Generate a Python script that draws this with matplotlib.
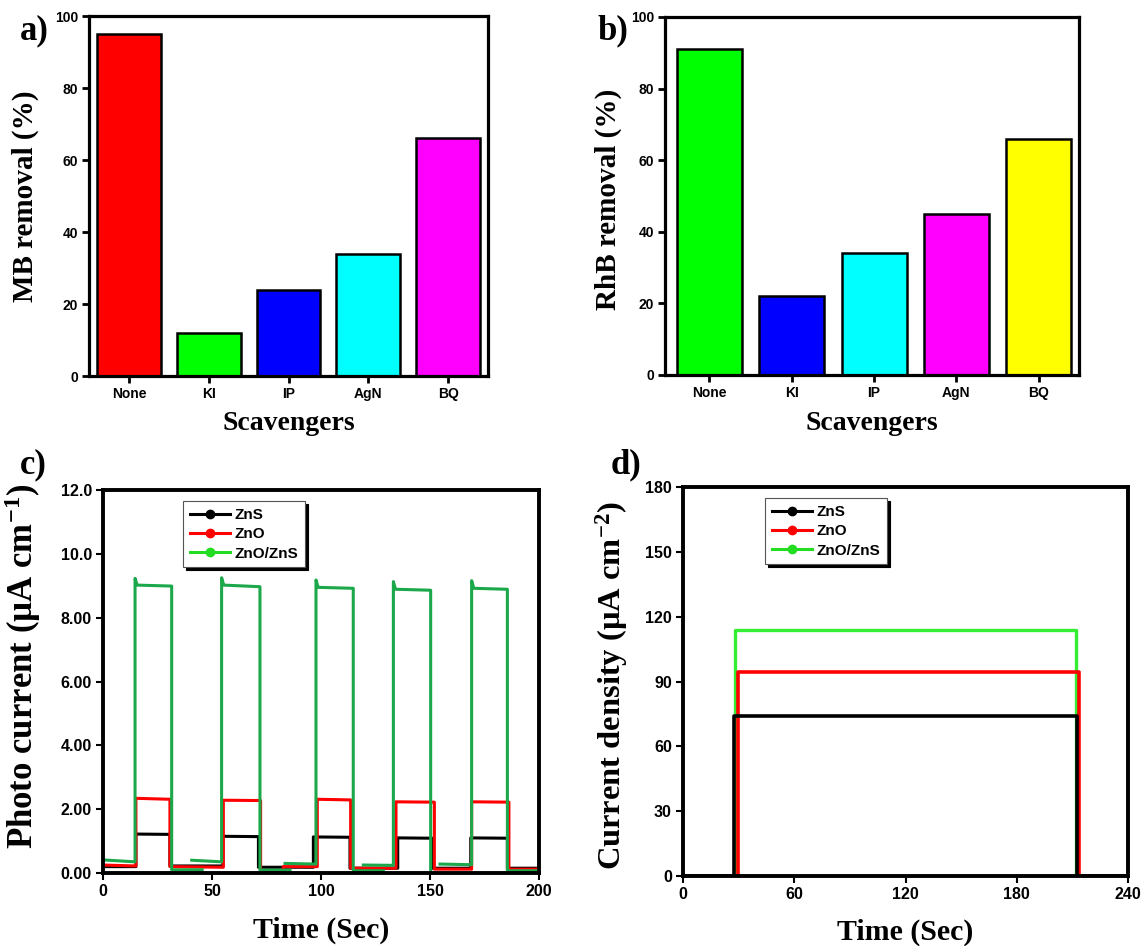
import numpy as np
import matplotlib
matplotlib.use('Agg')
import matplotlib.pyplot as plt
from matplotlib.lines import Line2D

plt.rcParams['mathtext.fontset'] = 'custom'
plt.rcParams['mathtext.rm'] = 'Liberation Serif:bold'
plt.rcParams['mathtext.it'] = 'Liberation Serif:bold:italic'
plt.rcParams['mathtext.bf'] = 'Liberation Serif:bold'
plt.rcParams['mathtext.default'] = 'rm'

# ---------------- data ----------------
scavengers = ['None', 'KI', 'IP', 'AgN', 'BQ']
mb_removal = [95, 12, 24, 34, 66]
rhb_removal = [91, 22, 34, 45, 66]
mb_colors = ['#ff0000', '#00ff00', '#0000ff', '#00ffff', '#ff00ff']
rhb_colors = ['#00ff00', '#0000ff', '#00ffff', '#ff00ff', '#ffff00']

nan = np.nan
# panel c : photo current vs time
t_zns = [0, 15.1, 15.1, 30.7, 30.7, 55.0, 55.0, 71.3, 71.3, 96.5, 96.5, 113.3, 113.3,
         135.2, 135.2, 151.0, 151.0, 168.7, 168.7, 185.5, 185.5, 200]
i_zns = [0.2, 0.2, 1.22, 1.21, 0.22, 0.22, 1.15, 1.14, 0.18, 0.18, 1.13, 1.12, 0.15,
         0.15, 1.1, 1.09, 0.15, 0.15, 1.1, 1.09, 0.15, 0.15]
t_zno = [0, 15.1, 15.1, 30.7, 30.7, 55.2, 55.2, 72.3, 72.3, 82.7, 82.7, 98.3, 98.3,
         113.6, 113.6, 134.4, 134.4, 152.0, 152.0, 169.1, 169.1, 186.2, 186.2, 200]
i_zno = [0.25, 0.22, 2.34, 2.31, 0.2, 0.18, 2.28, 2.27, 0.04, 0.04, 0.2, 0.2, 2.31,
         2.29, 0.15, 0.15, 2.23, 2.22, 0.12, 0.12, 2.23, 2.22, 0.12, 0.12]
t_znozns = [0, 14.7, 14.7, 15.7, 31.5, 31.5, 45.5, nan,
            40.7, 54.4, 54.4, 55.4, 72.0, 72.0, 85.8, nan,
            83.5, 97.7, 97.7, 98.7, 114.8, 114.8, 128.6, nan,
            119.4, 133.2, 133.2, 134.2, 150.3, 150.3, 163.8, nan,
            154.6, 169.1, 169.1, 170.1, 185.5, 185.5, 200]
i_znozns = [0.41, 0.35, 9.23, 9.02, 8.99, 0.1, 0.1, nan,
            0.4, 0.35, 9.25, 9.02, 8.97, 0.09, 0.09, nan,
            0.3, 0.28, 9.18, 8.95, 8.92, 0.07, 0.07, nan,
            0.25, 0.24, 9.13, 8.89, 8.86, -0.03, -0.03, nan,
            0.28, 0.26, 9.16, 8.92, 8.89, 0.07, 0.07]
c_yticks = [0, 2, 4, 6, 8, 10, 12]
c_yticklabels = ['0.00', '2.00', '4.00', '6.00', '8.00', '10.0', '12.0']
c_xticks = [0, 50, 100, 150, 200]

# panel d : current density vs time
td_zns = [0, 27.5, 27.5, 212.3, 212.3, 240]
jd_zns = [0, 0, 74, 74, 0, 0]
td_zno = [0, 29.8, 29.8, 213.6, 213.6, 240]
jd_zno = [0, 0, 94.5, 94.5, 0, 0]
td_znozns = [0, 28.0, 28.0, 212.0, 212.0, 240]
jd_znozns = [0, 0, 113.8, 113.8, 0, 0]
d_yticks = [0, 30, 60, 90, 120, 150, 180]
d_xticks = [0, 60, 120, 180, 240]

series_names = ['ZnS', 'ZnO', 'ZnO/ZnS']

# ---------------- figure ----------------
W, H = 1146, 946
fig = plt.figure(figsize=(W / 100, H / 100), dpi=100)


def add_ax(l, t, r, b):
    return fig.add_axes([l / W, 1 - b / H, (r - l) / W, (b - t) / H])


TICKFONT = dict(family='Liberation Sans', weight='bold')
LABELFONT = dict(family='Liberation Serif', weight='bold')


def style(ax, lw, ticksize, tlen=5, tw=2.0):
    for s in ax.spines.values():
        s.set_linewidth(lw)
    ax.tick_params(direction='out', length=tlen, width=tw, top=False, right=False,
                   labelsize=ticksize, pad=3)
    for lab in ax.get_xticklabels() + ax.get_yticklabels():
        lab.set_fontfamily(TICKFONT['family'])
        lab.set_fontweight('bold')


axa = add_ax(89, 16, 488, 376)
axb = add_ax(665, 17, 1079, 375)
axc = add_ax(103, 490, 539, 873)
axd = add_ax(683, 487, 1128, 876)

# panel a
xa = np.arange(len(scavengers))
axa.bar(xa, mb_removal, width=0.8, color=mb_colors, edgecolor='black', linewidth=1.8)
axa.set_xlim(-0.5, 4.5)
axa.set_ylim(0, 100)
axa.set_xticks(xa)
axa.set_xticklabels(scavengers)
axa.set_yticks([0, 20, 40, 60, 80, 100])
style(axa, 2.3, 10)
axa.set_ylabel('MB removal (%)', fontsize=21, **LABELFONT)
axa.set_xlabel('Scavengers', fontsize=20, **LABELFONT)
axa.yaxis.set_label_coords(-0.125, 0.5)
axa.xaxis.set_label_coords(0.5, -0.098)

# panel b
axb.bar(xa, rhb_removal, width=0.79, color=rhb_colors, edgecolor='black', linewidth=1.8)
axb.set_xlim(-0.54, 4.49)
axb.set_ylim(0, 100)
axb.set_xticks(xa)
axb.set_xticklabels(scavengers)
axb.set_yticks([0, 20, 40, 60, 80, 100])
style(axb, 2.3, 10)
axb.set_ylabel('RhB removal (%)', fontsize=21, **LABELFONT)
axb.set_xlabel('Scavengers', fontsize=20, **LABELFONT)
axb.yaxis.set_label_coords(-0.105, 0.49)
axb.xaxis.set_label_coords(0.5, -0.1)

# panel c
axc.plot(t_zns, i_zns, color='black', lw=2.2)
axc.plot(t_zno, i_zno, color='#ff0000', lw=2.2)
axc.plot(t_znozns, i_znozns, color='#1aa84a', lw=2.2)
axc.set_xlim(0, 200)
axc.set_ylim(0, 12)
axc.set_xticks(c_xticks)
axc.set_yticks(c_yticks)
axc.set_yticklabels(c_yticklabels)
style(axc, 2.8, 11.5, tlen=5, tw=1.5)
axc.set_ylabel('Photo current (µA cm$^{-1}$)', fontsize=25, **LABELFONT)
axc.set_xlabel('Time (Sec)', fontsize=21.5, **LABELFONT)
axc.yaxis.set_label_coords(-0.138, 0.54)
axc.xaxis.set_label_coords(0.5, -0.113)

# panel d
axd.plot(td_znozns, jd_znozns, color='#33ee33', lw=2.4)
axd.plot(td_zno, jd_zno, color='#ff0000', lw=2.6)
axd.plot(td_zns, jd_zns, color='black', lw=2.6)
axd.set_xlim(0, 240)
axd.set_ylim(0, 180)
axd.set_xticks(d_xticks)
axd.set_yticks(d_yticks)
style(axd, 2.8, 11.5, tlen=5, tw=1.5)
axd.set_ylabel('Current density (µA cm$^{-2}$)', fontsize=23.4, **LABELFONT)
axd.set_xlabel('Time (Sec)', fontsize=21.5, **LABELFONT)
axd.yaxis.set_label_coords(-0.119, 0.49)
axd.xaxis.set_label_coords(0.5, -0.11)

# legends
leg_colors = ['black', '#ff0000', '#22dd22']


def make_legend(ax, anchor):
    handles = [Line2D([], [], color=c, lw=2.2, marker='o', markersize=6,
                      markerfacecolor=c, markeredgecolor=c) for c in leg_colors]
    leg = ax.legend(handles, series_names, loc='upper left', bbox_to_anchor=anchor,
                    frameon=True, fancybox=False, shadow={'color': 'black', 'alpha': 1},
                    prop=dict(family='Liberation Sans', weight='bold', size=11),
                    handlelength=2.6, handletextpad=0.3, borderpad=0.45,
                    labelspacing=0.35, borderaxespad=0)
    leg.get_frame().set_edgecolor('#555555')
    leg.get_frame().set_linewidth(0.8)
    return leg


make_legend(axc, ((183 - 103) / 436, (873 - 501) / 383))
make_legend(axd, ((765 - 683) / 445, (876 - 498) / 389))

# panel letters
for txt, x, y in [('a)', 34, 31), ('b)', 613, 31), ('c)', 33, 465), ('d)', 626, 465)]:
    fig.text(x / W, 1 - y / H, txt, ha='center', va='center', fontsize=25,
             family='Liberation Serif', weight='bold')

fig.savefig('out.png', dpi=100)
